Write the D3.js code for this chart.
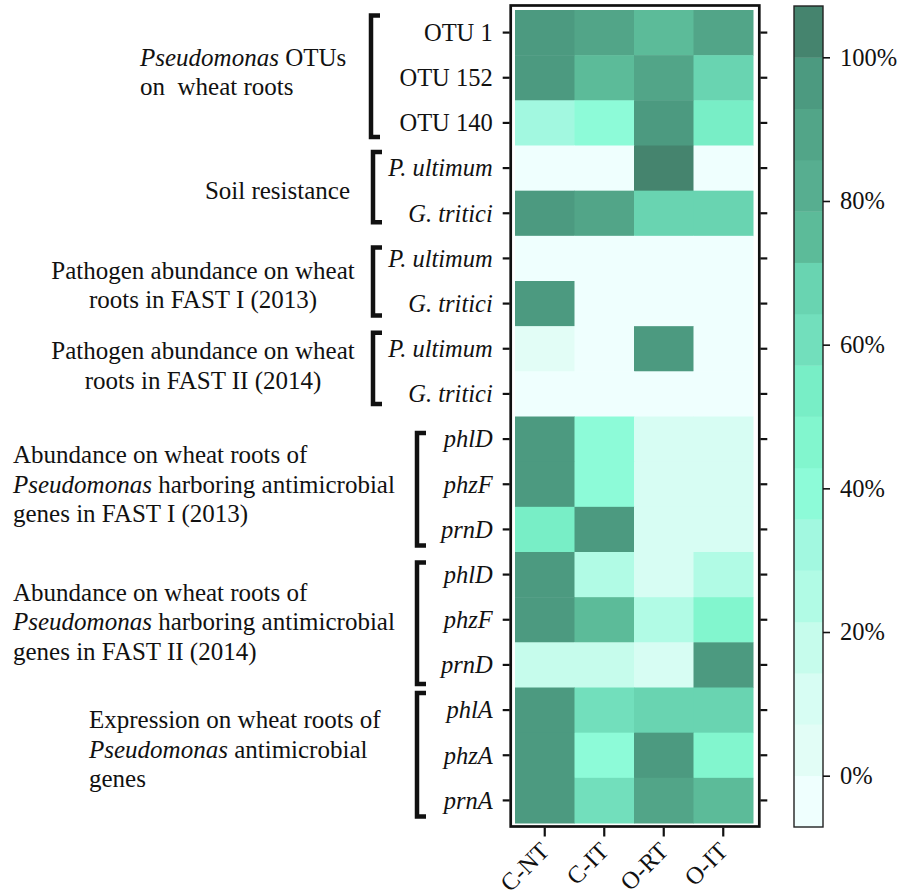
<!DOCTYPE html>
<html>
<head>
<meta charset="utf-8">
<script src="https://cdn.jsdelivr.net/npm/d3@7"></script>
<style>
  html, body { margin: 0; padding: 0; background: #ffffff; }
  svg { display: block; font-family: "Liberation Serif", "Times New Roman", serif; }
</style>
</head>
<body>
<script>
// Treatments (columns of the heatmap)
const columns = ["C-NT", "C-IT", "O-RT", "O-IT"];

// Row labels, top to bottom, and whether each is set in italics
const rowLabels = [
  "OTU 1", "OTU 152", "OTU 140",
  "P. ultimum", "G. tritici",
  "P. ultimum", "G. tritici",
  "P. ultimum", "G. tritici",
  "phlD", "phzF", "prnD",
  "phlD", "phzF", "prnD",
  "phlA", "phzA", "prnA"
];
const rowItalic = [
  false, false, false,
  true, true, true, true, true, true,
  true, true, true, true, true, true,
  true, true, true
];

// Relative values (%) per treatment, one entry per row
const valuesCNT = [97, 97, 32, -3, 97, -3, 97, 3, -3, 97, 97, 53, 97, 97, 18, 97, 97, 97];
const valuesCIT = [89, 75, 40, -3, 89, -3, -3, -3, -3, 40, 40, 97, 25, 74, 18, 60, 40, 60];
const valuesORT = [75, 89, 97, 103, 68, -3, -3, 97, -3, 10, 10, 10, 10, 25, 12, 68, 97, 89];
const valuesOIT = [89, 68, 53, -3, 68, -3, -3, -3, -3, 10, 10, 10, 25, 46, 97, 68, 46, 74];
const seriesValues = [valuesCNT, valuesCIT, valuesORT, valuesOIT];

// Colour bar ticks
const colorTicks = [0, 20, 40, 60, 80, 100];

// Row groups (first row, last row) and their descriptive labels
const groupRows = [[0, 2], [3, 4], [5, 6], [7, 8], [9, 11], [12, 14], [15, 17]];
const groupLabels = [
  [[["Pseudomonas", true], [" OTUs", false]], [["on  wheat roots", false]]],
  [[["Soil resistance", false]]],
  [[["Pathogen abundance on wheat", false]], [["roots in FAST I (2013)", false]]],
  [[["Pathogen abundance on wheat", false]], [["roots in FAST II (2014)", false]]],
  [[["Abundance on wheat roots of", false]],
   [["Pseudomonas", true], [" harboring antimicrobial", false]],
   [["genes in FAST I (2013)", false]]],
  [[["Abundance on wheat roots of", false]],
   [["Pseudomonas", true], [" harboring antimicrobial", false]],
   [["genes in FAST II (2014)", false]]],
  [[["Expression on wheat roots of", false]],
   [["Pseudomonas", true], [" antimicrobial", false]],
   [["genes", false]]]
];

// Stepped palette, low to high, 16 bins of 100/14 % each
const binColors = [
  "#effffe", "#e2fdf6", "#d7fdf3", "#c6fcec", "#b1fbe5", "#a2f8e0", "#8dfbd8", "#82f6ce",
  "#78eec6", "#72dfbc", "#69d4b1", "#5cbb99", "#57ae90", "#52a588", "#4c9a80", "#45846e"
];

const W = 897, H = 896;
const ink = "#111111";
const fontSize = 24.5;

const svg = d3.select("body").append("svg")
  .attr("width", W).attr("height", H)
  .attr("viewBox", `0 0 ${W} ${H}`);

const step = 100 / 14;
const color = d3.scaleQuantize()
  .domain([-step, 100 + step])
  .range(binColors);

const x = d3.scaleBand().domain(columns).range([515, 753]);
const y = d3.scaleBand().domain(d3.range(rowLabels.length)).range([10, 823]);

// Heatmap cells
const cells = [];
rowLabels.forEach((r, i) => {
  columns.forEach((c, j) => cells.push({ row: i, col: c, value: seriesValues[j][i] }));
});

svg.append("g").selectAll("rect")
  .data(cells)
  .join("rect")
  .attr("x", d => x(d.col))
  .attr("y", d => y(d.row))
  .attr("width", x.bandwidth() + 0.5)
  .attr("height", y.bandwidth() + 0.5)
  .attr("fill", d => color(d.value));

// Frame around the heatmap
const frame = { x0: 510.7, x1: 759.3, y0: 5.5, y1: 826.5 };
svg.append("rect")
  .attr("x", frame.x0).attr("y", frame.y0)
  .attr("width", frame.x1 - frame.x0).attr("height", frame.y1 - frame.y0)
  .attr("fill", "none").attr("stroke", ink).attr("stroke-width", 2.7);

// Left axis with row labels
const leftAxis = svg.append("g")
  .attr("transform", `translate(${frame.x0 - 1},0)`)
  .call(d3.axisLeft(y).tickSize(7).tickPadding(10).tickFormat(i => rowLabels[i]));
leftAxis.select(".domain").remove();
leftAxis.selectAll(".tick line").attr("stroke", ink).attr("stroke-width", 2.2);
leftAxis.selectAll(".tick text")
  .attr("fill", ink)
  .style("font-family", "'Liberation Serif', serif")
  .style("font-size", fontSize + "px")
  .style("font-style", i => rowItalic[i] ? "italic" : "normal")
  .attr("dy", "0.34em");

// Right axis: ticks only
const rightAxis = svg.append("g")
  .attr("transform", `translate(${frame.x1 + 1},0)`)
  .call(d3.axisRight(y).tickSize(7).tickFormat(""));
rightAxis.select(".domain").remove();
rightAxis.selectAll(".tick line").attr("stroke", ink).attr("stroke-width", 2.2);

// Bottom axis with rotated treatment labels
const bottomAxis = svg.append("g")
  .attr("transform", `translate(0,${frame.y1 + 1})`)
  .call(d3.axisBottom(x).tickSize(9).tickFormat(""));
bottomAxis.select(".domain").remove();
bottomAxis.selectAll(".tick line").attr("stroke", ink).attr("stroke-width", 2.2);
bottomAxis.selectAll(".tick").append("text")
  .attr("fill", ink)
  .attr("text-anchor", "end")
  .attr("transform", "translate(6,25) rotate(-45)")
  .style("font-family", "'Liberation Serif', serif")
  .style("font-size", fontSize + "px")
  .text(d => d);

// Group brackets and descriptive labels
const groupLayout = [
  { anchor: "start",  x: 140, dy: -6, bx: 371, top: -17, bottom: 14 },
  { anchor: "end",    x: 350, dy: 0,  bx: 373, top: -16, bottom: 9 },
  { anchor: "middle", x: 203, dy: 4,  bx: 373, top: -11, bottom: 12 },
  { anchor: "middle", x: 203, dy: -6, bx: 373, top: -16, bottom: 10 },
  { anchor: "start",  x: 13,  dy: 0,  bx: 417, top: -6,  bottom: 16 },
  { anchor: "start",  x: 13,  dy: 2,  bx: 417, top: -12, bottom: 19 },
  { anchor: "start",  x: 89,  dy: -6, bx: 417, top: -17, bottom: 16 }
];
const lineGap = 29.5;
const yc = i => y(i) + y.bandwidth() / 2;

const groups = svg.append("g");
groupRows.forEach(([r0, r1], g) => {
  const L = groupLayout[g];
  const t = yc(r0) + L.top, b = yc(r1) + L.bottom;
  groups.append("path")
    .attr("d", `M${L.bx + 9},${t}H${L.bx}V${b}H${L.bx + 9}`)
    .attr("fill", "none").attr("stroke", ink).attr("stroke-width", 4.5)
    .attr("stroke-linejoin", "miter");

  const lines = groupLabels[g];
  const mid = (yc(r0) + yc(r1)) / 2 + L.dy;
  lines.forEach((parts, k) => {
    const ty = mid + (k - (lines.length - 1) / 2) * lineGap + 8.5;
    const txt = groups.append("text")
      .attr("x", L.x).attr("y", ty)
      .attr("text-anchor", L.anchor)
      .attr("fill", ink)
      .style("font-size", "25px");
    parts.forEach(([s, it]) => {
      txt.append("tspan")
        .style("font-style", it ? "italic" : "normal")
        .attr("xml:space", "preserve")
        .text(s);
    });
  });
});

// Colour bar
const cb = { x0: 794, x1: 823, y0: 6, y1: 827 };
const cy = d3.scaleLinear().domain(color.domain()).range([cb.y1, cb.y0]);
const bins = binColors.map((c, i) => {
  const [lo, hi] = color.invertExtent(c);
  return { c, lo, hi };
});
svg.append("g").selectAll("rect")
  .data(bins)
  .join("rect")
  .attr("x", cb.x0)
  .attr("width", cb.x1 - cb.x0)
  .attr("y", d => cy(d.hi))
  .attr("height", d => cy(d.lo) - cy(d.hi) + 0.4)
  .attr("fill", d => d.c);
svg.append("rect")
  .attr("x", cb.x0).attr("y", cb.y0)
  .attr("width", cb.x1 - cb.x0).attr("height", cb.y1 - cb.y0)
  .attr("fill", "none").attr("stroke", "#222").attr("stroke-width", 1.4);

const cbAxis = svg.append("g")
  .attr("transform", `translate(${cb.x1},0)`)
  .call(d3.axisRight(cy).tickValues(colorTicks).tickSize(7).tickPadding(10).tickFormat(d => d + "%"));
cbAxis.select(".domain").remove();
cbAxis.selectAll(".tick line").attr("stroke", ink).attr("stroke-width", 1.6);
cbAxis.selectAll(".tick text")
  .attr("fill", ink)
  .style("font-family", "'Liberation Serif', serif")
  .style("font-size", fontSize + "px");
</script>
</body>
</html>
